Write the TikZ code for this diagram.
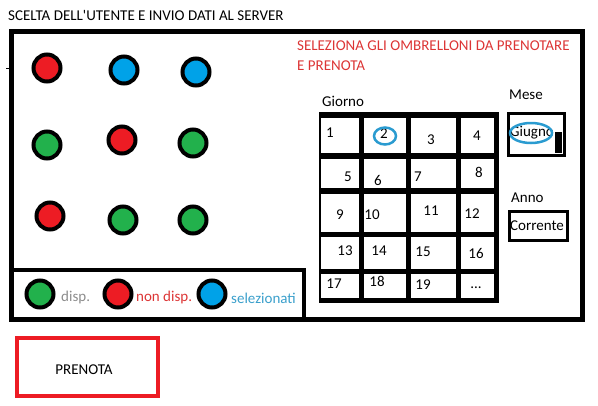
\documentclass[tikz,border=0pt]{standalone}
\usepackage{fontspec}
\setmainfont{Carlito}
\usepackage{tikz}
\usetikzlibrary{positioning}

\definecolor{pRed}{HTML}{ED1C24}
\definecolor{pGreen}{HTML}{22B14C}
\definecolor{pBlue}{HTML}{00A2E8}
\definecolor{txtRed}{HTML}{DC3535}
\definecolor{txtBlue}{HTML}{3A9FCB}
\definecolor{txtGray}{HTML}{8C8C8C}
\definecolor{ringBlue}{HTML}{2A9BD0}

\begin{document}
\begin{tikzpicture}[
    x=1pt, y=-1pt,
    font=\fontsize{15}{18}\selectfont,
    umbrella/.style={circle, draw=black, line width=4pt, minimum size=27pt, inner sep=0pt},
    frame/.style={draw=black, line width=5pt},
    cell/.style={fill=white},
    num/.style={inner sep=0pt},
    label/.style={inner sep=0pt, anchor=west}
  ]
  \useasboundingbox (0,0) rectangle (598,405);

  % --- Title ---
  \node[label] (title) at (8,15) {SCELTA DELL\textquotesingle UTENTE E INVIO DATI AL SERVER};

  % --- Main Frame ---
  \draw[frame] (11,31) rectangle (582,319);
  \draw[black, line width=1pt] (6,68) -- (11,68);
  \node[label, text=txtRed, align=left, anchor=north west,
        font=\fontsize{15}{20}\selectfont] (hint) at (297,41)
        {SELEZIONA GLI OMBRELLONI DA PRENOTARE\\E PRENOTA};

  % --- Umbrellas ---
  \foreach \name/\x/\y/\col in {u1/47/68/pRed, u2/124/70/pBlue, u3/196/72/pBlue,
      u4/47/145/pGreen, u5/122/140/pRed, u6/193/143/pGreen,
      u7/50/216/pRed, u8/123/220/pGreen, u9/193/220/pGreen} {
    \node[umbrella, fill=\col] (\name) at (\x,\y) {};
  }

  % --- Legend ---
  \draw[black, line width=4pt] (11,270) -- (304,270) -- (304,319);
  \node[umbrella, fill=pGreen] (lgGreen) at (40,294) {};
  \node[label, text=txtGray] (lgFree) at (61,297) {disp.};
  \node[umbrella, fill=pRed] (lgRed) at (118,294) {};
  \node[label, text=txtRed] (lgBusy) at (136,297) {non disp.};
  \node[umbrella, fill=pBlue] (lgBlue) at (212,294) {};
  \node[label, text=txtBlue] (lgSel) at (231,298) {selezionati};

  % --- Day Grid ---
  \node[label] (giorno) at (322,101) {Giorno};
  \fill[black] (319,112) rectangle (499,303);
  \foreach \xa/\xb in {321/359, 364/406, 411/456, 461/494} {
    \foreach \ya/\yb in {118/153, 159/188, 194/232, 237/269, 274/298} {
      \fill[cell] (\xa,\ya) rectangle (\xb,\yb);
    }
  }
  \foreach \d/\x/\y in {1/330/133, 2/384/134, 3/431/140, 4/477/136,
      5/348/177, 6/378/180, 7/418/177, 8/479/172,
      9/340/215, 10/372/215, 11/431/211, 12/472/214,
      13/345/251, 14/379/251, 15/423/252, 16/476/253,
      17/334/284, 18/377/281, 19/423/285} {
    \node[num] (d\d) at (\x,\y) {\d};
  }
  \node[num] (dMore) at (476,288) {...};
  \draw[ringBlue, line width=2.5pt] (385,136) ellipse (11pt and 8.5pt);

  % --- Month / Year ---
  \node[label] (mese) at (509,95) {Mese};
  \draw[black, line width=3pt] (508,113) rectangle (564,155);
  \fill[black] (555,132) rectangle (562,153);
  \node[label] (giugno) at (510,133) {Giugno};
  \draw[ringBlue, line width=2.5pt] (531,133) ellipse (21pt and 10pt);

  \node[label] (anno) at (511,198) {Anno};
  \draw[black, line width=3pt] (509,211) rectangle (567,240);
  \node[label] (corrente) at (510,226) {Corrente};

  % --- Submit Button ---
  \draw[pRed, line width=4pt] (17,338) rectangle (158,396);
  \node (prenota) at (84,370) {PRENOTA};

\end{tikzpicture}
\end{document}
